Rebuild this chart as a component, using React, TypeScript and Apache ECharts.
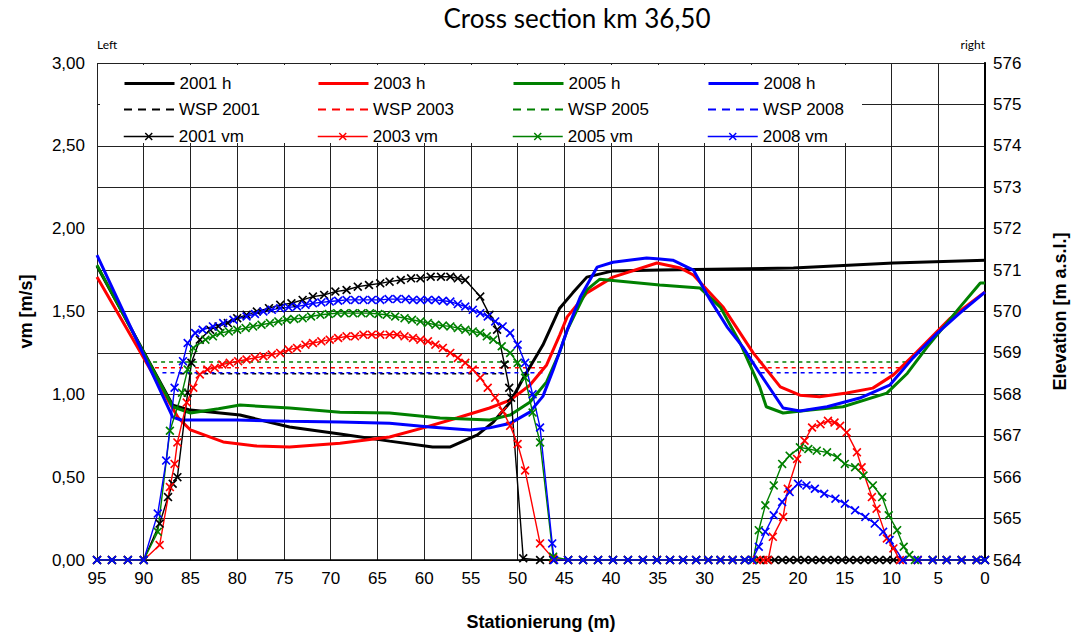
import React, { useEffect, useRef } from "react";
import * as echarts from "echarts";

const FONT = '"Liberation Sans", Arial, sans-serif';
const TITLE_FONT = 'Lato, "Open Sans", sans-serif';

const yearNames = ["2001", "2003", "2005", "2008"];
const yearColors = ["#000000", "#ff0000", "#008000", "#0000ff"];

// Elevation (bed) profiles [station m, elevation m a.s.l.]
const h2001: [number, number][] = [[95,571.1],[86.9,567.74],[85,567.62],[79.7,567.5],[74.4,567.21],[69,567.04],[63.7,566.87],[59.1,566.73],[57.2,566.73],[54.3,567.02],[52.6,567.33],[50.8,567.81],[49.4,568.39],[47.3,569.19],[45.5,570.08],[44.1,570.45],[42.6,570.83],[39.8,570.98],[34.8,571.0],[20.5,571.05],[9.8,571.17],[0,571.24]];
const h2003: [number, number][] = [[95,570.83],[86.3,567.43],[85,567.14],[81.5,566.85],[77.9,566.75],[74.4,566.73],[69,566.82],[63.7,566.97],[60.1,567.19],[56.5,567.43],[53,567.67],[50.8,567.86],[48.7,568.22],[46.9,568.71],[45.5,569.43],[44.7,569.87],[42.6,570.45],[39.8,570.83],[35.1,571.17],[32.6,571.05],[31.2,570.88],[28,570.1],[24.8,569.0],[21.9,568.18],[19.8,567.98],[17.7,567.94],[14.8,568.03],[12,568.15],[9.8,568.47],[7.3,569.02],[3.7,569.84],[0,570.47]];
const h2005: [number, number][] = [[95,571.12],[86.9,567.7],[85,567.55],[82,567.65],[79.7,567.74],[74.4,567.67],[69,567.57],[63.7,567.55],[58.3,567.43],[53,567.38],[50.8,567.5],[48.7,567.81],[46.9,568.3],[45.5,569.02],[44.7,569.55],[42.6,570.52],[41.2,570.78],[34.8,570.64],[30.5,570.57],[28.3,570.1],[26.2,569.24],[24.1,568.18],[23.4,567.7],[21.6,567.55],[18.7,567.62],[15.2,567.7],[10.5,568.03],[8.3,568.51],[6.2,569.14],[2.7,570.1],[0.5,570.69],[0,570.69]];
const h2008: [number, number][] = [[95,571.36],[86.9,567.45],[86,567.38],[80,567.38],[74.4,567.35],[69,567.33],[63.7,567.3],[59.4,567.21],[55.1,567.14],[53,567.19],[50.8,567.3],[48.7,567.57],[47.3,567.95],[46.2,568.59],[44.7,569.55],[43.3,570.35],[41.5,571.07],[39.8,571.19],[36.2,571.29],[34.8,571.27],[33.4,571.24],[31.2,571.0],[29.4,570.28],[27.6,569.63],[25.9,569.14],[24.1,568.51],[21.6,567.67],[19.8,567.6],[16.9,567.7],[13.4,567.91],[10.2,568.22],[7.7,568.88],[5.1,569.48],[2.7,569.96],[0,570.47]];

// Water surface levels (WSP) and their wetted ranges [from, to]
const wspLevels = [568.5, 568.64, 568.78, 568.52];
const wspRanges2001: [number, number][] = [[86.1, 51.1]];
const wspRanges2003: [number, number][] = [[88.8, 46.9], [24.1, 8.8]];
const wspRanges2005: [number, number][] = [[89, 47.3], [25.1, 8.3]];
const wspRanges2008: [number, number][] = [[88, 47.3], [24, 9.8]];

// Mean velocities vm [station m, m/s]
const vm2001: [number, number][] = [[95,0],[93.4,0],[91.7,0],[90,0],[88.3,0.22],[87.4,0.38],[86.9,0.46],[86.4,0.5],[85.3,1.01],[84.9,1.19],[84,1.33],[82.9,1.39],[82,1.41],[81,1.43],[80,1.46],[79,1.48],[77.9,1.5],[76.6,1.52],[75.4,1.54],[74.2,1.55],[73,1.57],[71.9,1.59],[70.7,1.6],[69.5,1.62],[68.3,1.63],[67.1,1.65],[65.9,1.66],[64.7,1.67],[63.7,1.68],[62.5,1.69],[61.4,1.7],[60.4,1.7],[59.3,1.71],[58.2,1.71],[57.2,1.71],[56.4,1.7],[55.6,1.69],[54,1.59],[53,1.48],[52.2,1.39],[51.4,1.18],[50.9,1.04],[50.7,0.98],[49.4,0.01],[47.6,0],[46.2,0],[44.6,0],[43,0],[41.4,0],[39.8,0],[38.2,0],[36.6,0],[35.1,0],[33.7,0],[32.3,0],[30.9,0],[29.6,0],[28.3,0],[27,0],[25.7,0],[24.9,0],[24.1,0],[23.3,0],[22.5,0],[21.7,0],[20.9,0],[20.1,0],[19.3,0],[18.5,0],[17.7,0],[16.9,0],[16.1,0],[15.3,0],[14.5,0],[13.7,0],[12.9,0],[12.1,0],[11.3,0],[10.5,0],[9.8,0],[8.8,0],[7.2,0],[5.6,0],[4.1,0],[2.5,0],[0.9,0],[0,0]];
const vm2003: [number, number][] = [[95,0],[93.4,0],[91.7,0],[90,0],[88.3,0.09],[87.2,0.44],[86.7,0.58],[86.4,0.71],[85.4,0.95],[84.7,1.04],[84,1.12],[83.2,1.15],[82.4,1.16],[81.6,1.18],[80.8,1.19],[79.9,1.2],[79,1.21],[78.1,1.22],[77.2,1.23],[76.3,1.24],[75.4,1.25],[74.5,1.27],[73.6,1.28],[72.7,1.3],[71.9,1.31],[71,1.32],[70.1,1.33],[69.2,1.34],[68.3,1.35],[67.4,1.35],[66.5,1.36],[65.6,1.36],[64.7,1.36],[63.7,1.36],[62.9,1.36],[62.1,1.35],[61.2,1.34],[60.4,1.33],[59.6,1.32],[58.8,1.3],[58,1.28],[57.2,1.25],[56.4,1.22],[55.6,1.19],[54.8,1.15],[54,1.1],[53.2,1.04],[52.4,0.98],[51.6,0.9],[50.8,0.81],[50,0.7],[49.2,0.54],[47.6,0.1],[46.2,0.01],[44.6,0],[43,0],[41.4,0],[39.8,0],[38.2,0],[36.6,0],[35.1,0],[33.7,0],[32.3,0],[30.9,0],[29.6,0],[28.3,0],[27,0],[25.7,0],[24.4,0],[23.7,0],[23.2,0],[22.7,0.14],[21.6,0.26],[21.1,0.43],[20.1,0.61],[19.3,0.72],[18.5,0.8],[17.6,0.82],[16.8,0.84],[16.1,0.83],[15.5,0.81],[14.8,0.77],[13.7,0.65],[13.2,0.56],[12.1,0.38],[11.6,0.31],[10.5,0.13],[9.8,0.07],[9.1,0],[7.2,0],[5.6,0],[4.1,0],[2.5,0],[0.9,0],[0,0]];
const vm2005: [number, number][] = [[95,0],[93.4,0],[91.7,0],[90,0],[88.5,0.17],[87.2,0.78],[85.9,1.01],[85.3,1.15],[84.7,1.28],[83.4,1.33],[82.6,1.35],[81.8,1.37],[80.9,1.38],[80,1.39],[79.1,1.4],[78.3,1.41],[77.4,1.42],[76.5,1.43],[75.6,1.44],[74.7,1.45],[73.9,1.455],[73,1.46],[72.1,1.47],[71.1,1.48],[70.2,1.485],[69.3,1.49],[68.5,1.49],[67.6,1.49],[66.7,1.49],[65.8,1.49],[64.9,1.485],[64,1.48],[63.1,1.47],[62.1,1.46],[61.3,1.45],[60.4,1.44],[59.6,1.43],[58.8,1.42],[58,1.415],[57.2,1.41],[56.4,1.4],[55.6,1.39],[54.8,1.38],[54,1.37],[53.3,1.35],[52.6,1.33],[51.7,1.29],[50.8,1.25],[50,1.19],[49.2,1.1],[48.4,0.89],[47.6,0.71],[46.2,0.02],[44.6,0],[43,0],[41.4,0],[39.8,0],[38.2,0],[36.6,0],[35.1,0],[33.7,0],[32.3,0],[30.9,0],[29.6,0],[28.3,0],[27,0],[25.7,0],[24.8,0],[24.2,0.18],[23.5,0.33],[22.6,0.45],[21.7,0.58],[20.9,0.63],[19.8,0.68],[18.9,0.67],[18,0.66],[16.9,0.65],[15.8,0.62],[15,0.58],[13.9,0.56],[13,0.51],[12,0.45],[11,0.38],[10.3,0.27],[9.4,0.18],[8.7,0.08],[8.1,0.03],[7.5,0],[5.6,0],[4.1,0],[2.5,0],[0.9,0],[0,0]];
const vm2008: [number, number][] = [[95,0],[93.4,0],[91.7,0],[90,0],[88.5,0.28],[87.6,0.6],[86.7,1.04],[85.8,1.2],[85.3,1.31],[84.5,1.37],[83.7,1.39],[82.6,1.41],[81.5,1.43],[80.4,1.45],[79,1.47],[78.1,1.485],[77.2,1.5],[76.3,1.51],[75.4,1.52],[74.5,1.525],[73.6,1.53],[72.7,1.54],[71.9,1.55],[71,1.555],[70.1,1.56],[69.2,1.565],[68.3,1.57],[67.4,1.57],[66.5,1.57],[65.6,1.57],[64.7,1.57],[63.8,1.575],[62.9,1.575],[62,1.575],[61.2,1.57],[60.4,1.57],[59.6,1.57],[58.8,1.57],[58,1.565],[57.2,1.56],[56.4,1.545],[55.6,1.53],[54.8,1.51],[54,1.49],[53.2,1.47],[52.4,1.44],[51.6,1.41],[50.8,1.37],[50,1.3],[49.2,1.19],[48.4,1.0],[47.6,0.8],[46.3,0.1],[46.1,0],[44.6,0],[43,0],[41.4,0],[39.8,0],[38.2,0],[36.6,0],[35.1,0],[33.7,0],[32.3,0],[30.9,0],[29.6,0],[28.3,0],[27,0],[25.7,0],[24.9,0],[24.2,0.08],[23.5,0.17],[22.6,0.27],[21.7,0.35],[20.9,0.41],[20,0.46],[19.1,0.45],[18.2,0.43],[17.2,0.4],[16,0.37],[15,0.34],[13.9,0.3],[12.8,0.26],[11.8,0.22],[10.9,0.17],[10.2,0.12],[8.8,0],[7.2,0],[5.6,0],[4.1,0],[2.5,0],[0.9,0],[0,0]];

const xTicks = { min: 0, max: 95, interval: 5 };
const vmTicks = { min: 0, max: 3, interval: 0.5 };
const elevTicks = { min: 564, max: 576, interval: 1 };

const hData = [h2001, h2003, h2005, h2008];
const vmData = [vm2001, vm2003, vm2005, vm2008];
const wspRanges = [wspRanges2001, wspRanges2003, wspRanges2005, wspRanges2008];

const CROSS = "path://M0,1.3L1.3,0L5,3.7L8.7,0L10,1.3L6.3,5L10,8.7L8.7,10L5,6.3L1.3,10L0,8.7L3.7,5Z";

function wspLine(level: number, ranges: [number, number][]) {
  const out: any[] = [];
  ranges.forEach(([a, b], i) => {
    if (i > 0) out.push([a, "-"]);
    out.push([a, level], [b, level]);
  });
  return out;
}

export default function App() {
  const ref = useRef<HTMLDivElement>(null);
  useEffect(() => {
    if (!ref.current) return;
    const chart = echarts.init(ref.current, undefined, { renderer: "svg" });
    const series: any[] = [];
    const names: string[][] = [[], [], []];
    yearNames.forEach((y, i) => {
      const n = `${y} h`;
      names[0].push(n);
      series.push({
        name: n, type: "line", yAxisIndex: 1, data: hData[i], symbol: "none",
        lineStyle: { color: yearColors[i], width: 3 }, itemStyle: { color: yearColors[i] }, z: 3,
      });
    });
    yearNames.forEach((y, i) => {
      const n = `WSP ${y}`;
      names[1].push(n);
      series.push({
        name: n, type: "line", yAxisIndex: 1, data: wspLine(wspLevels[i], wspRanges[i]), symbol: "none",
        connectNulls: false,
        lineStyle: { color: yearColors[i], width: 1.5, type: [4, 4] }, itemStyle: { color: yearColors[i] }, z: 2,
      });
    });
    yearNames.forEach((y, i) => {
      const n = `${y} vm`;
      names[2].push(n);
      series.push({
        name: n, type: "line", yAxisIndex: 0, data: vmData[i], symbol: CROSS, symbolSize: 9,
        lineStyle: { color: yearColors[i], width: 1.4 }, itemStyle: { color: yearColors[i] }, z: 4,
      });
    });
    const colX = [118, 312, 507, 702];
    const rowY = [70, 96, 123];
    const legends: any[] = [];
    names.forEach((row, r) =>
      row.forEach((n, c) => {
        const lg: any = {
          data: [n], left: colX[c], top: rowY[r], itemWidth: 50, itemHeight: 10, itemGap: 0,
          textStyle: { fontFamily: FONT, fontSize: 17, color: "#000" }, z: 6,
        };
        if (r < 2) lg.itemStyle = { opacity: 0 };
        if (r === 0) lg.lineStyle = { width: 3 };
        if (r === 1) lg.lineStyle = { width: 2, type: [8, 6] };
        if (r === 2) lg.lineStyle = { width: 1.5 };
        legends.push(lg);
      })
    );
    const axisLabelStyle = { fontFamily: FONT, fontSize: 17, color: "#000" };
    const nameStyle = { fontFamily: FONT, fontSize: 18, fontWeight: "bold" as const, color: "#000" };
    chart.setOption({
      animation: false,
      backgroundColor: "#fff",
      grid: { left: 97, right: 93, top: 63, bottom: 79 },
      legend: legends,
      graphic: [
        { type: "rect", left: 100, top: 65, shape: { width: 762, height: 78 }, style: { fill: "#fff" }, z: 5 },
        { type: "text", x: 577, y: 5, style: { text: "Cross section km 36,50", font: `26px ${TITLE_FONT}`, fill: "#000", align: "center" }, z: 6 },
        { type: "text", left: 97, top: 38, style: { text: "Left", font: `12px ${TITLE_FONT}`, fill: "#000" }, z: 6 },
        { type: "text", right: 93, top: 38, style: { text: "right", font: `12px ${TITLE_FONT}`, fill: "#000" }, z: 6 },
      ],
      xAxis: {
        type: "value", inverse: true, ...xTicks,
        name: "Stationierung (m)", nameLocation: "middle", nameGap: 53, nameTextStyle: nameStyle,
        axisLine: { show: true, lineStyle: { color: "#000", width: 1.5 } },
        axisTick: { show: false },
        axisLabel: { ...axisLabelStyle, margin: 10 },
        splitLine: { show: true, lineStyle: { color: "#222", width: 1 } },
      },
      yAxis: [
        {
          type: "value", position: "left", ...vmTicks,
          name: "vm [m/s]", nameLocation: "middle", nameGap: 62, nameRotate: 90, nameTextStyle: nameStyle,
          axisLine: { show: true, lineStyle: { color: "#000", width: 1.5 } },
          axisTick: { show: false },
          axisLabel: { ...axisLabelStyle, margin: 12, formatter: (v: number) => v.toFixed(2).replace(".", ",") },
          splitLine: { show: false },
        },
        {
          type: "value", position: "right", ...elevTicks,
          name: "Elevation [m a.s.l.]", nameLocation: "middle", nameGap: 66, nameRotate: 90, nameTextStyle: nameStyle,
          axisLine: { show: true, lineStyle: { color: "#000", width: 2 } },
          axisTick: { show: false },
          axisLabel: { ...axisLabelStyle, margin: 8 },
          splitLine: { show: true, lineStyle: { color: "#222", width: 1 } },
        },
      ],
      series,
    });
    return () => chart.dispose();
  }, []);
  return <div ref={ref} style={{ width: 1078, height: 639, position: "absolute", left: 0, top: 0 }} />;
}
